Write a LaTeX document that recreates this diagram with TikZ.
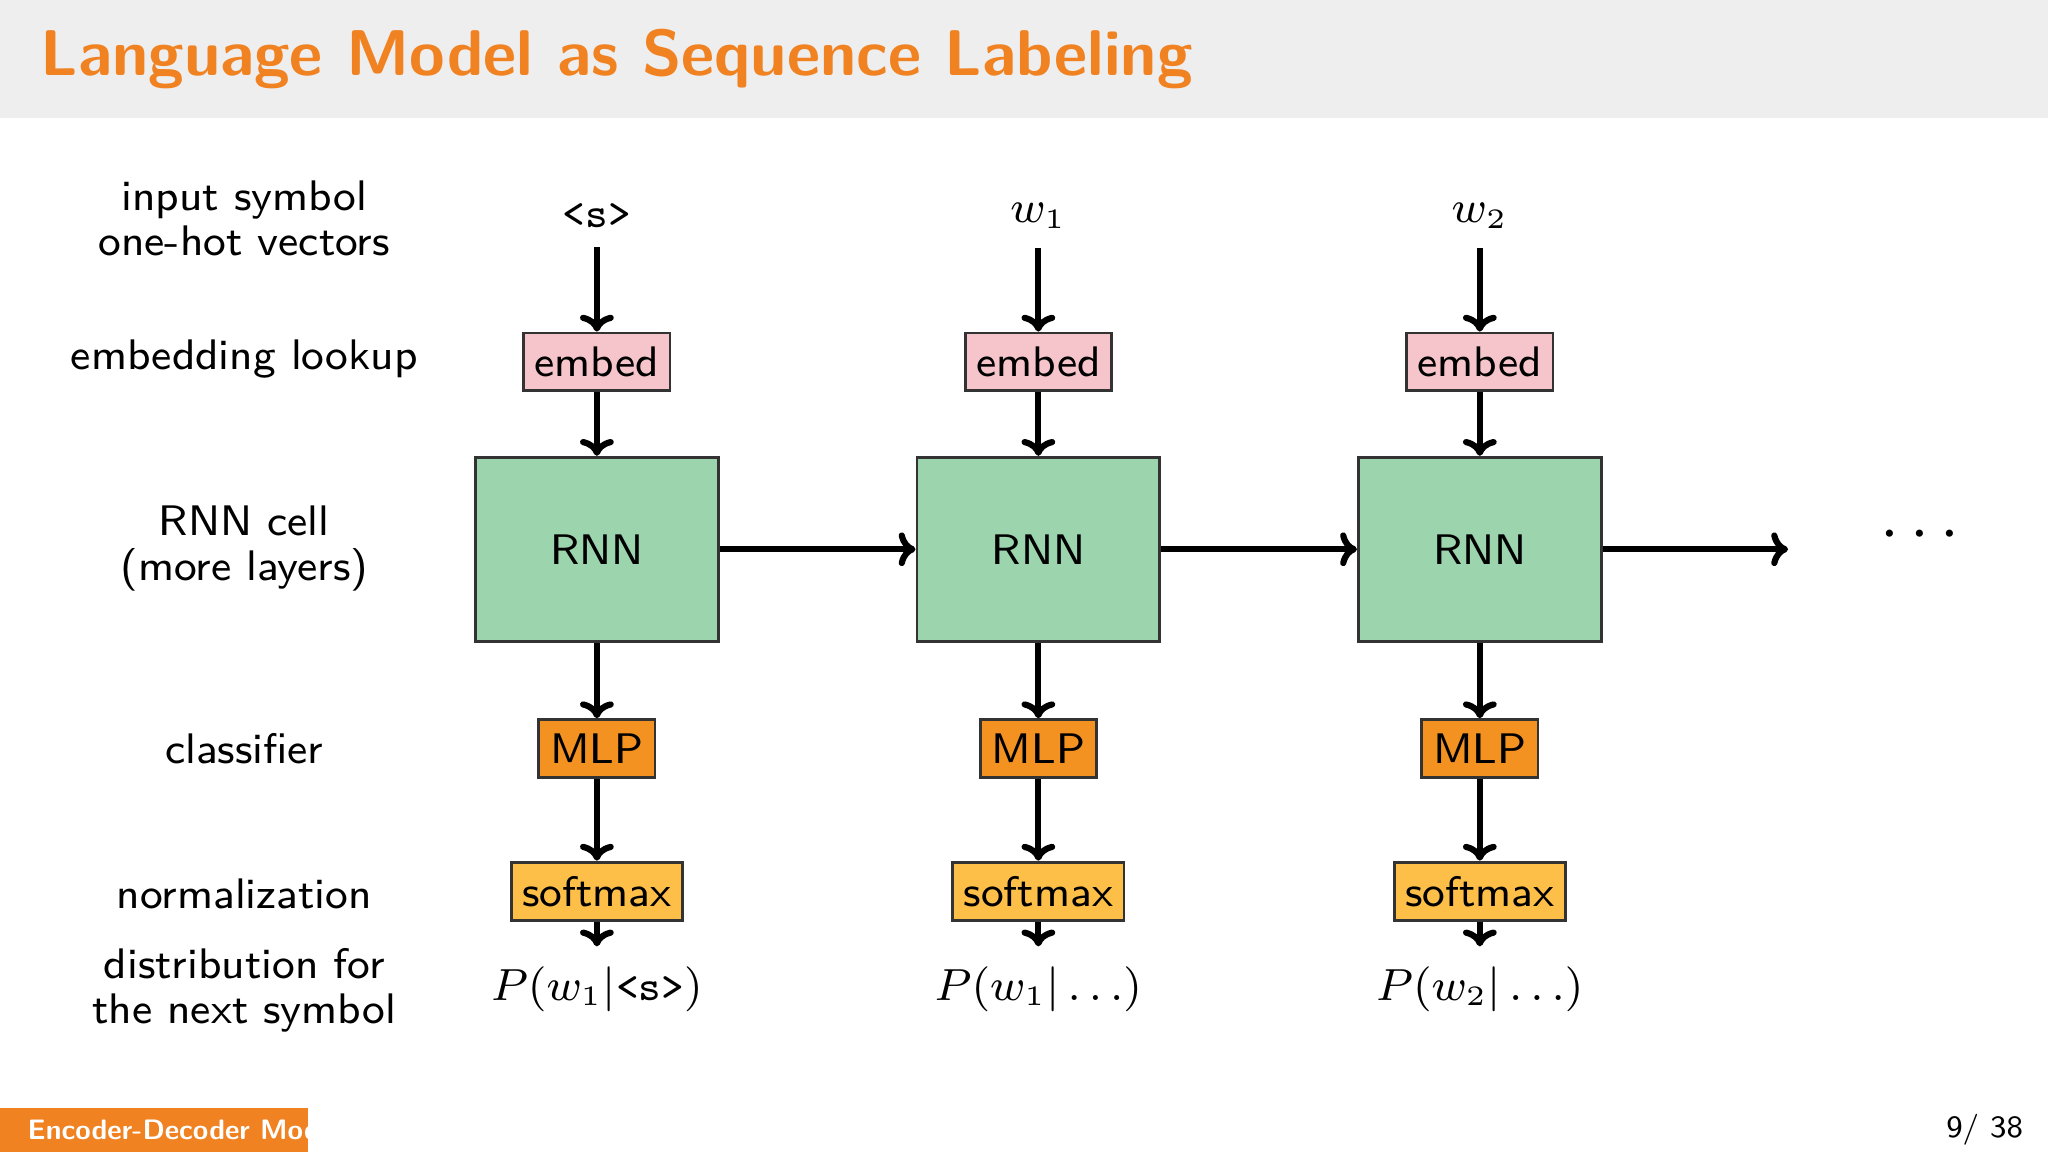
\documentclass[tikz,border=0pt]{standalone}
\usetikzlibrary{arrows.meta}
\definecolor{hdr}{HTML}{EEEEEE}
\definecolor{ttl}{HTML}{F08222}
\definecolor{emb}{HTML}{F6C5CB}
\definecolor{rnn}{HTML}{9CD4AD}
\definecolor{mlp}{HTML}{F39220}
\definecolor{smx}{HTML}{FDBF48}
\begin{document}
\begin{tikzpicture}[x=0.008163cm,y=-0.008163cm,font=\sffamily\fontsize{7.6}{9}\selectfont,
  box/.style={draw=black!80,line width=0.5pt,inner sep=0pt,anchor=center},
  arr/.style={line width=1.1pt,-{To[length=3pt,width=6pt]}},
  lbl/.style={align=center}]
\useasboundingbox (0,0) rectangle (1568,882);
\fill[hdr] (0,0) rectangle (1568,90);
\node[anchor=west,text=ttl,font=\sffamily\bfseries\fontsize{11.5}{14}\selectfont] (title) at (16,45) {Language Model as Sequence Labeling};
\fill[ttl] (0,848) rectangle (236,882);
\node[anchor=west,text=white,font=\sffamily\bfseries\fontsize{5}{6}\selectfont] (foot) at (6,865) {Encoder-Decoder Models};
\node[anchor=east,font=\sffamily\fontsize{5.5}{7}\selectfont] (page) at (1564,865) {9/ 38};
% left labels
\node[lbl] (l1) at (187,167) {input symbol\\[-1pt]one-hot vectors};
\node[lbl] (l2) at (187,275) {embedding lookup};
\node[lbl] (l3) at (187,420) {RNN cell\\[-1pt](more layers)};
\node[lbl] (l4) at (187,573) {classifier};
\node[lbl] (l5) at (187,684) {normalization};
\node[lbl] (l6) at (187,758) {distribution for\\[-1pt]the next symbol};
% columns
\foreach \i/\x/\inp/\out in {a/457/{\texttt{<s>}}/{$P(w_1|\texttt{<s>})$},b/795/{$w_1$}/{$P(w_1|\ldots)$},c/1133/{$w_2$}/{$P(w_2|\ldots)$}}{
  \node (in\i) at (\x,165) {\inp};
  \node[box,fill=emb,minimum width=0.914cm,minimum height=0.36cm] (emb\i) at (\x,277) {embed};
  \node[box,fill=rnn,minimum width=1.518cm,minimum height=1.15cm] (rnn\i) at (\x,420.5) {RNN};
  \node[box,fill=mlp,minimum width=0.727cm,minimum height=0.36cm] (mlp\i) at (\x,573) {MLP};
  \node[box,fill=smx,minimum width=1.07cm,minimum height=0.367cm] (smx\i) at (\x,682.5) {softmax};
  \node[font=\fontsize{7.6}{9}\selectfont] (out\i) at (\x,757) {\out};
  \draw[arr] (in\i.south) -- (emb\i);
  \draw[arr] (emb\i) -- (rnn\i);
  \draw[arr] (rnn\i) -- (mlp\i);
  \draw[arr] (mlp\i) -- (smx\i);
  \draw[arr] (smx\i) -- (out\i);
}
\node[font=\fontsize{12}{13}\selectfont] (dots) at (1470,410) {$\cdots$};
\coordinate (end) at (1369,420.5);
\draw[arr] (rnna) -- (rnnb);
\draw[arr] (rnnb) -- (rnnc);
\draw[arr] (rnnc) -- (end);
\end{tikzpicture}
\end{document}
